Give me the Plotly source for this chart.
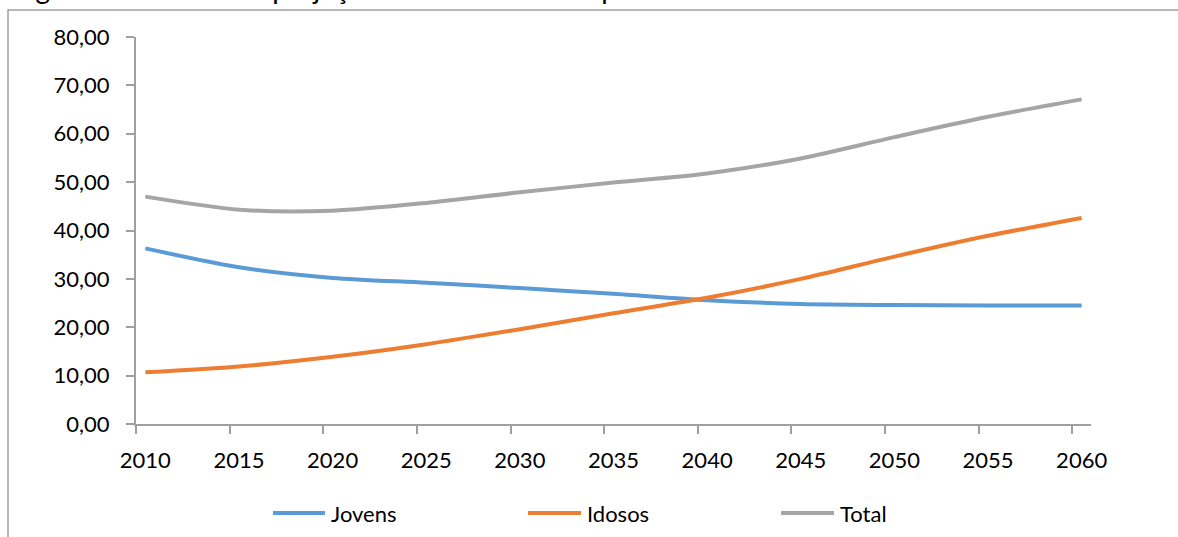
import plotly.graph_objects as go

# Razões de dependência projetadas, Brasil, 2010-2060
anos = [2010, 2015, 2020, 2025, 2030, 2035, 2040, 2045, 2050, 2055, 2060]
jovens = [36.3, 32.4, 30.2, 29.2, 28.1, 26.9, 25.6, 24.8, 24.6, 24.5, 24.5]
idosos = [10.7, 11.9, 13.9, 16.5, 19.6, 22.9, 26.1, 30.0, 34.6, 38.9, 42.6]
total = [47.0, 44.3, 44.1, 45.7, 47.9, 49.9, 51.8, 54.9, 59.3, 63.5, 67.1]

nomes = ["Jovens", "Idosos", "Total"]
cores = ["#5B9BD5", "#ED7D31", "#A5A5A5"]
series = [jovens, idosos, total]

titulo = "Figura 3 - Estimativa projeções das razões de dependência no Brasil 2010 a 2060"

W, H = 1178, 537
L, R, T, B = 136, 1091, 37, 424  # plot area in pixels
FONT = "Lato"
AXIS = "#A0A0A0"


def px_x(p):
    return (p - L) / (R - L)


def px_y(p):
    return (B - p) / (B - T)


fig = go.Figure()
for nome, cor, ys in zip(nomes, cores, series):
    fig.add_trace(go.Scatter(
        x=anos, y=ys, name=nome, mode="lines",
        line=dict(color=cor, width=4, shape="spline", smoothing=0.8),
        showlegend=False,
    ))

# legend drawn by hand (long line samples)
leg_lines = [(273, 325), (528, 581), (781, 834)]
leg_y = 513
shapes = []
annotations = []
for (x0, x1), nome, cor in zip(leg_lines, nomes, cores):
    shapes.append(dict(type="line", xref="paper", yref="paper",
                       x0=px_x(x0), x1=px_x(x1), y0=px_y(leg_y), y1=px_y(leg_y),
                       line=dict(color=cor, width=4)))
    annotations.append(dict(text=nome, xref="paper", yref="paper",
                            x=px_x(x1 + 4), y=px_y(leg_y), xanchor="left", yanchor="middle",
                            showarrow=False, font=dict(family=FONT, size=22, color="#000000")))

# chart frame
shapes.append(dict(type="rect", xref="paper", yref="paper",
                   x0=px_x(8), x1=px_x(1200), y0=px_y(560), y1=px_y(10),
                   line=dict(color=AXIS, width=1.5), fillcolor="rgba(0,0,0,0)"))

# figure caption above the frame, running off the top edge
annotations.append(dict(text=titulo, xref="paper", yref="paper",
                        x=px_x(11), y=px_y(7), xanchor="left", yanchor="bottom",
                        showarrow=False, font=dict(family=FONT, size=28, color="#000000")))

fig.update_layout(
    width=W, height=H,
    margin=dict(l=L, r=W - R, t=T, b=H - B, pad=0),
    paper_bgcolor="white", plot_bgcolor="white",
    separators=",.",
    font=dict(family=FONT, size=22, color="#000000"),
    shapes=shapes, annotations=annotations,
    showlegend=False,
)
fig.update_xaxes(
    range=[2009.5, 2060.5], tickmode="array", tickvals=anos,
    ticks="", showgrid=False, zeroline=False,
    showline=True, linecolor=AXIS, linewidth=2,
    ticklabelstandoff=16,
    minor=dict(tickmode="linear", tick0=2009.5, dtick=5, ticks="outside",
               ticklen=8, tickwidth=1.5, tickcolor=AXIS, showgrid=False),
)
fig.update_yaxes(
    range=[0, 80], dtick=10, tickformat=".2f",
    ticks="outside", ticklen=8, tickwidth=1.5, tickcolor=AXIS,
    showgrid=False, zeroline=False,
    showline=True, linecolor=AXIS, linewidth=2,
    ticklabelstandoff=12,
)

fig.write_html("out.html")
